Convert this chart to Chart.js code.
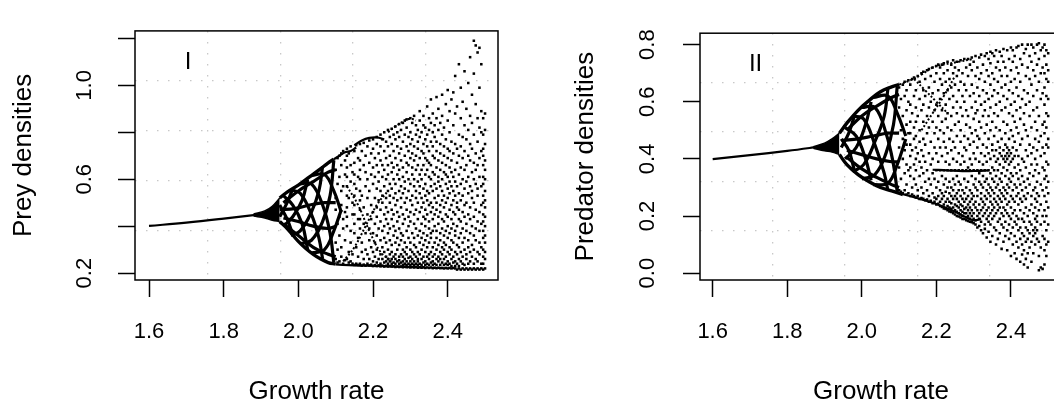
<!DOCTYPE html>
<html lang="en">
<head>
<meta charset="UTF-8">
<title>Prey and predator densities vs growth rate</title>
<style>
  html, body { margin: 0; padding: 0; background: #fff; overflow: hidden; }
  #wrap { position: relative; width: 1054px; height: 407px; overflow: hidden; }
  #preyChart { position: absolute; left: 0; top: 0; }
  #predChart { position: absolute; left: 540px; top: 0; }
</style>
<script src="https://cdn.jsdelivr.net/npm/chart.js"></script>
</head>
<body>
<div id="wrap">
  <canvas id="preyChart" width="540" height="407"></canvas>
  <canvas id="predChart" width="530" height="407"></canvas>
</div>
<script>
// axis ticks
const xTicks = [1.6, 1.8, 2.0, 2.2, 2.4];
const xTickLabels = ['1.6', '1.8', '2.0', '2.2', '2.4'];
const preyTicks = [0.2, 0.4, 0.6, 0.8, 1.0, 1.2];
const preyTickLabels = ['0.2', '', '0.6', '', '1.0', ''];
const predTicks = [0.0, 0.2, 0.4, 0.6, 0.8];
const predTickLabels = ['0.0', '0.2', '0.4', '0.6', '0.8'];

// ---------- panel I: prey ----------
const preyLine = [[1.60, 0.401], [1.70, 0.415], [1.80, 0.432], [1.88, 0.447], [1.90, 0.452]];
const preyWedgeTop = [[1.88, 0.452], [1.91, 0.465], [1.93, 0.485], [1.95, 0.52]];
const preyWedgeBottom = [[1.88, 0.443], [1.91, 0.435], [1.93, 0.425], [1.95, 0.42]];
const preyBulbTop = [[1.95, 0.52], [1.97, 0.545], [2.00, 0.575], [2.03, 0.61], [2.06, 0.645], [2.08, 0.67], [2.095, 0.685]];
const preyBulbBottom = [[1.95, 0.42], [1.97, 0.39], [2.00, 0.335], [2.02, 0.305], [2.04, 0.28], [2.06, 0.26], [2.08, 0.245], [2.10, 0.238]];
const preyTorus = [
  [[1.95, 0.44], [1.97, 0.50], [1.985, 0.56]],
  [[1.96, 0.40], [1.985, 0.44], [2.01, 0.51], [2.025, 0.60]],
  [[1.98, 0.36], [2.005, 0.38], [2.035, 0.46], [2.055, 0.55], [2.065, 0.655]],
  [[2.005, 0.325], [2.035, 0.34], [2.065, 0.42], [2.085, 0.53], [2.095, 0.68]],
  [[2.035, 0.285], [2.07, 0.30], [2.095, 0.38], [2.115, 0.47]],
  [[1.95, 0.49], [1.97, 0.43], [1.985, 0.365]],
  [[1.96, 0.53], [1.985, 0.49], [2.01, 0.41], [2.025, 0.30]],
  [[1.98, 0.555], [2.005, 0.54], [2.035, 0.45], [2.055, 0.35], [2.065, 0.26]],
  [[2.005, 0.58], [2.035, 0.58], [2.065, 0.49], [2.085, 0.37], [2.095, 0.245]],
  [[2.035, 0.615], [2.07, 0.62], [2.095, 0.55], [2.115, 0.46]],
  [[1.95, 0.47], [1.99, 0.475], [2.03, 0.49], [2.07, 0.50], [2.10, 0.50]],
  [[1.96, 0.435], [2.00, 0.42], [2.04, 0.40], [2.08, 0.39], [2.10, 0.40]],
  [[1.96, 0.50], [2.00, 0.55], [2.04, 0.59], [2.08, 0.63], [2.10, 0.64]],
  [[1.96, 0.41], [2.00, 0.36], [2.04, 0.31], [2.08, 0.28], [2.10, 0.27]]
];
const preyArcs = [
  [[2.10, 0.237], [2.15, 0.233], [2.20, 0.231], [2.25, 0.229], [2.30, 0.226], [2.34, 0.224]],
  [[2.15, 0.745], [2.17, 0.765], [2.19, 0.776], [2.21, 0.778], [2.23, 0.77]],
  [[2.095, 0.685], [2.11, 0.70], [2.125, 0.715], [2.14, 0.72], [2.155, 0.735]]
];
const preyDotted = [
  [[2.24, 0.80], [2.26, 0.825], [2.28, 0.845], [2.30, 0.858], [2.315, 0.85]],
  [[2.12, 0.25], [2.15, 0.31], [2.18, 0.40], [2.21, 0.49], [2.24, 0.55]],
  [[2.13, 0.57], [2.16, 0.49], [2.19, 0.38], [2.22, 0.29], [2.25, 0.25]]
];
const preyCloudX = [
  2.100, 2.105, 2.110, 2.115, 2.120, 2.125, 2.130, 2.135, 2.140, 2.145,
  2.150, 2.155, 2.160, 2.165, 2.170, 2.175, 2.180, 2.185, 2.190, 2.195,
  2.200, 2.205, 2.210, 2.215, 2.220, 2.225, 2.230, 2.235, 2.240, 2.245,
  2.250, 2.255, 2.260, 2.265, 2.270, 2.275, 2.280, 2.285, 2.290, 2.295,
  2.300, 2.305, 2.310, 2.315, 2.320, 2.325, 2.330, 2.335, 2.340, 2.345,
  2.350, 2.355, 2.360, 2.365, 2.370, 2.375, 2.380, 2.385, 2.390, 2.395,
  2.400, 2.405, 2.410, 2.415, 2.420, 2.425, 2.430, 2.435, 2.440, 2.445,
  2.450, 2.455, 2.460, 2.465, 2.470, 2.475, 2.480, 2.485, 2.490, 2.495, 2.500
];
const preyCloudY = [
  [0.26, 0.33, 0.47, 0.52, 0.64],
  [0.245, 0.30, 0.41, 0.58, 0.69],
  [0.25, 0.36, 0.44, 0.61, 0.70],
  [0.27, 0.31, 0.49, 0.55, 0.66, 0.71],
  [0.24, 0.39, 0.43, 0.57, 0.72],
  [0.255, 0.34, 0.46, 0.62, 0.68],
  [0.26, 0.40, 0.44, 0.48, 0.53, 0.57, 0.61, 0.65, 0.70, 0.73],
  [0.245, 0.29, 0.52, 0.71],
  [0.25, 0.33, 0.38, 0.59, 0.66, 0.74],
  [0.24, 0.28, 0.45, 0.50, 0.63],
  [0.235, 0.37, 0.41, 0.45, 0.49, 0.53, 0.58, 0.62, 0.67, 0.72],
  [0.24, 0.31, 0.56, 0.745],
  [0.235, 0.27, 0.35, 0.43, 0.61, 0.69],
  [0.24, 0.39, 0.43, 0.47, 0.51, 0.55, 0.60, 0.64, 0.68, 0.75],
  [0.232, 0.29, 0.33, 0.53, 0.72],
  [0.236, 0.26, 0.41, 0.48, 0.66, 0.755],
  [0.232, 0.30, 0.37, 0.57, 0.63, 0.70],
  [0.24, 0.28, 0.45, 0.52, 0.60, 0.74],
  [0.233, 0.26, 0.34, 0.39, 0.55, 0.67, 0.765],
  [0.236, 0.31, 0.43, 0.49, 0.62, 0.71],
  [0.23, 0.25, 0.29, 0.37, 0.46, 0.58, 0.65, 0.73, 0.77],
  [0.234, 0.27, 0.33, 0.41, 0.52, 0.61, 0.69],
  [0.23, 0.245, 0.30, 0.36, 0.44, 0.48, 0.56, 0.66, 0.75, 0.78],
  [0.233, 0.26, 0.39, 0.51, 0.59, 0.63, 0.71],
  [0.229, 0.24, 0.28, 0.34, 0.42, 0.47, 0.55, 0.68, 0.74, 0.79],
  [0.232, 0.26, 0.31, 0.38, 0.50, 0.53, 0.61, 0.66, 0.77],
  [0.228, 0.245, 0.29, 0.35, 0.40, 0.45, 0.57, 0.64, 0.72, 0.80],
  [0.231, 0.25, 0.27, 0.33, 0.43, 0.48, 0.52, 0.60, 0.69, 0.76],
  [0.228, 0.24, 0.26, 0.30, 0.37, 0.41, 0.46, 0.55, 0.62, 0.66, 0.74, 0.81],
  [0.23, 0.25, 0.28, 0.34, 0.39, 0.50, 0.53, 0.58, 0.70, 0.78],
  [0.228, 0.24, 0.26, 0.29, 0.32, 0.43, 0.47, 0.56, 0.63, 0.67, 0.75, 0.815],
  [0.229, 0.245, 0.27, 0.36, 0.40, 0.45, 0.52, 0.60, 0.65, 0.72, 0.79],
  [0.226, 0.24, 0.26, 0.28, 0.33, 0.38, 0.49, 0.54, 0.58, 0.69, 0.77, 0.825],
  [0.228, 0.25, 0.30, 0.35, 0.42, 0.46, 0.51, 0.62, 0.66, 0.74, 0.80],
  [0.226, 0.24, 0.255, 0.27, 0.32, 0.39, 0.44, 0.55, 0.60, 0.64, 0.71, 0.78, 0.835],
  [0.228, 0.245, 0.28, 0.34, 0.37, 0.48, 0.52, 0.57, 0.68, 0.73, 0.81],
  [0.225, 0.235, 0.25, 0.27, 0.30, 0.36, 0.41, 0.45, 0.54, 0.61, 0.65, 0.76, 0.84],
  [0.227, 0.24, 0.26, 0.29, 0.33, 0.43, 0.50, 0.56, 0.59, 0.70, 0.79, 0.85],
  [0.225, 0.235, 0.25, 0.28, 0.31, 0.38, 0.47, 0.52, 0.63, 0.67, 0.74, 0.82, 0.855],
  [0.226, 0.24, 0.265, 0.35, 0.40, 0.44, 0.55, 0.60, 0.66, 0.72, 0.78],
  [0.224, 0.235, 0.25, 0.27, 0.30, 0.33, 0.42, 0.46, 0.51, 0.58, 0.69, 0.75, 0.80, 0.86],
  [0.226, 0.24, 0.26, 0.29, 0.37, 0.49, 0.53, 0.62, 0.65, 0.71, 0.77, 0.84],
  [0.224, 0.235, 0.25, 0.28, 0.32, 0.35, 0.41, 0.45, 0.57, 0.60, 0.68, 0.74, 0.87],
  [0.226, 0.24, 0.27, 0.31, 0.39, 0.47, 0.52, 0.55, 0.64, 0.70, 0.79, 0.83],
  [0.223, 0.235, 0.25, 0.26, 0.29, 0.36, 0.43, 0.50, 0.59, 0.66, 0.73, 0.76, 0.81],
  [0.225, 0.24, 0.28, 0.33, 0.38, 0.46, 0.54, 0.57, 0.62, 0.69, 0.78, 0.85, 0.89],
  [0.223, 0.235, 0.26, 0.30, 0.35, 0.41, 0.48, 0.52, 0.60, 0.64, 0.72, 0.80],
  [0.225, 0.245, 0.27, 0.32, 0.37, 0.44, 0.50, 0.56, 0.66, 0.71, 0.75, 0.83, 0.87],
  [0.222, 0.235, 0.25, 0.29, 0.34, 0.40, 0.43, 0.47, 0.53, 0.58, 0.62, 0.69, 0.77, 0.82],
  [0.224, 0.24, 0.27, 0.31, 0.36, 0.45, 0.51, 0.55, 0.64, 0.68, 0.74, 0.79, 0.91],
  [0.222, 0.235, 0.26, 0.28, 0.33, 0.39, 0.42, 0.49, 0.54, 0.61, 0.67, 0.72, 0.81, 0.86],
  [0.224, 0.245, 0.29, 0.35, 0.37, 0.46, 0.50, 0.57, 0.60, 0.66, 0.76, 0.84, 0.94],
  [0.221, 0.235, 0.25, 0.27, 0.31, 0.38, 0.43, 0.48, 0.55, 0.63, 0.70, 0.74, 0.80, 0.88],
  [0.223, 0.24, 0.28, 0.33, 0.40, 0.45, 0.52, 0.58, 0.62, 0.69, 0.78, 0.83],
  [0.221, 0.235, 0.26, 0.30, 0.35, 0.38, 0.47, 0.50, 0.56, 0.65, 0.72, 0.76, 0.86, 0.95],
  [0.223, 0.25, 0.27, 0.32, 0.41, 0.44, 0.53, 0.59, 0.61, 0.68, 0.81, 0.90],
  [0.221, 0.235, 0.26, 0.29, 0.34, 0.37, 0.46, 0.49, 0.57, 0.64, 0.71, 0.75, 0.84],
  [0.222, 0.245, 0.28, 0.31, 0.39, 0.43, 0.51, 0.55, 0.60, 0.67, 0.79, 0.87, 0.96],
  [0.22, 0.235, 0.26, 0.30, 0.33, 0.36, 0.42, 0.48, 0.53, 0.63, 0.70, 0.74, 0.82],
  [0.222, 0.24, 0.27, 0.32, 0.38, 0.45, 0.50, 0.58, 0.62, 0.66, 0.77, 0.92],
  [0.22, 0.235, 0.25, 0.29, 0.35, 0.40, 0.44, 0.52, 0.56, 0.61, 0.69, 0.73, 0.85, 0.98],
  [0.222, 0.24, 0.28, 0.31, 0.37, 0.47, 0.54, 0.59, 0.65, 0.72, 0.80, 0.89],
  [0.22, 0.23, 0.26, 0.30, 0.34, 0.39, 0.43, 0.49, 0.57, 0.63, 0.68, 0.76, 0.94],
  [0.222, 0.245, 0.27, 0.33, 0.41, 0.46, 0.51, 0.55, 0.61, 0.71, 0.83, 0.97],
  [0.22, 0.23, 0.25, 0.29, 0.36, 0.38, 0.45, 0.53, 0.59, 0.64, 0.75, 0.88, 1.04],
  [0.215, 0.24, 0.28, 0.32, 0.40, 0.48, 0.50, 0.57, 0.67, 0.73, 0.91],
  [0.22, 0.23, 0.26, 0.31, 0.35, 0.43, 0.47, 0.54, 0.62, 0.70, 0.79, 1.09],
  [0.215, 0.25, 0.29, 0.37, 0.42, 0.51, 0.58, 0.65, 0.74, 0.86, 0.99],
  [0.22, 0.24, 0.27, 0.33, 0.39, 0.46, 0.53, 0.60, 0.69, 0.78, 0.93],
  [0.215, 0.235, 0.30, 0.35, 0.44, 0.49, 0.56, 0.64, 0.72, 0.83, 1.06],
  [0.22, 0.26, 0.28, 0.38, 0.41, 0.50, 0.59, 0.66, 0.77, 0.90],
  [0.215, 0.24, 0.31, 0.34, 0.45, 0.54, 0.61, 0.70, 0.81, 1.01],
  [0.22, 0.25, 0.29, 0.37, 0.43, 0.48, 0.57, 0.68, 0.75, 0.87, 1.12],
  [0.215, 0.27, 0.32, 0.40, 0.52, 0.55, 0.63, 0.73, 0.84, 0.96],
  [0.22, 0.24, 0.30, 0.36, 0.44, 0.50, 0.60, 0.67, 0.79, 1.05, 1.19],
  [0.215, 0.26, 0.34, 0.39, 0.47, 0.58, 0.64, 0.71, 0.92, 1.17],
  [0.22, 0.25, 0.29, 0.42, 0.53, 0.56, 0.66, 0.76, 0.86, 1.14],
  [0.215, 0.28, 0.33, 0.38, 0.46, 0.61, 0.69, 0.82, 0.99, 1.16],
  [0.22, 0.24, 0.31, 0.41, 0.49, 0.57, 0.72, 0.80, 0.89, 1.09],
  [0.215, 0.24, 0.27, 0.30, 0.35, 0.38, 0.42, 0.45, 0.50, 0.53, 0.58, 0.61, 0.66, 0.70, 0.73, 0.79, 0.86],
  [0.22, 0.26, 0.29, 0.33, 0.36, 0.40, 0.44, 0.48, 0.51, 0.55, 0.60, 0.64, 0.68, 0.75, 0.81, 0.88]
];

// ---------- panel II: predator ----------
const predLine = [[1.60, 0.399], [1.70, 0.413], [1.80, 0.428], [1.87, 0.44], [1.89, 0.444]];
const predWedgeTop = [[1.87, 0.443], [1.90, 0.455], [1.92, 0.47], [1.94, 0.49]];
const predWedgeBottom = [[1.87, 0.437], [1.90, 0.428], [1.92, 0.424], [1.94, 0.415]];
const predBulbTop = [[1.94, 0.49], [1.96, 0.525], [1.99, 0.57], [2.02, 0.605], [2.05, 0.635], [2.08, 0.652], [2.10, 0.66]];
const predBulbBottom = [[1.94, 0.415], [1.96, 0.38], [1.99, 0.345], [2.02, 0.32], [2.05, 0.30], [2.08, 0.288], [2.11, 0.275]];
const predTorus = [
  [[1.945, 0.44], [1.965, 0.49], [1.98, 0.55]],
  [[1.955, 0.40], [1.985, 0.44], [2.01, 0.52], [2.025, 0.60]],
  [[1.975, 0.355], [2.005, 0.38], [2.035, 0.46], [2.06, 0.55], [2.07, 0.645]],
  [[2.00, 0.33], [2.035, 0.345], [2.065, 0.42], [2.085, 0.52], [2.095, 0.655]],
  [[2.03, 0.31], [2.07, 0.315], [2.095, 0.38], [2.118, 0.47]],
  [[1.945, 0.47], [1.965, 0.43], [1.98, 0.36]],
  [[1.955, 0.51], [1.985, 0.48], [2.01, 0.40], [2.025, 0.325]],
  [[1.975, 0.55], [2.005, 0.54], [2.035, 0.45], [2.06, 0.35], [2.07, 0.29]],
  [[2.00, 0.58], [2.035, 0.58], [2.065, 0.49], [2.085, 0.38], [2.095, 0.285]],
  [[2.03, 0.615], [2.07, 0.62], [2.095, 0.56], [2.118, 0.48]],
  [[1.95, 0.465], [1.99, 0.47], [2.03, 0.48], [2.07, 0.49], [2.10, 0.49]],
  [[1.96, 0.43], [2.00, 0.415], [2.04, 0.40], [2.08, 0.39], [2.10, 0.39]],
  [[1.96, 0.50], [2.00, 0.55], [2.04, 0.585], [2.08, 0.615], [2.10, 0.625]],
  [[1.96, 0.405], [2.00, 0.365], [2.04, 0.335], [2.08, 0.31], [2.10, 0.30]]
];
const predArcs = [
  [[2.10, 0.28], [2.15, 0.262], [2.20, 0.242], [2.25, 0.215], [2.28, 0.196], [2.30, 0.185], [2.32, 0.19]],
  [[2.19, 0.362], [2.23, 0.36], [2.27, 0.357], [2.31, 0.358], [2.34, 0.36]]
];
const predDotted = [
  [[2.10, 0.66], [2.13, 0.675], [2.16, 0.695], [2.19, 0.72], [2.22, 0.73], [2.26, 0.74], [2.30, 0.75]],
  [[2.14, 0.68], [2.17, 0.64], [2.20, 0.60], [2.23, 0.56]],
  [[2.16, 0.50], [2.19, 0.56], [2.22, 0.62], [2.25, 0.69]]
];
const predCloudX = [
  2.100, 2.105, 2.110, 2.115, 2.120, 2.125, 2.130, 2.135, 2.140, 2.145,
  2.150, 2.155, 2.160, 2.165, 2.170, 2.175, 2.180, 2.185, 2.190, 2.195,
  2.200, 2.205, 2.210, 2.215, 2.220, 2.225, 2.230, 2.235, 2.240, 2.245,
  2.250, 2.255, 2.260, 2.265, 2.270, 2.275, 2.280, 2.285, 2.290, 2.295,
  2.300, 2.305, 2.310, 2.315, 2.320, 2.325, 2.330, 2.335, 2.340, 2.345,
  2.350, 2.355, 2.360, 2.365, 2.370, 2.375, 2.380, 2.385, 2.390, 2.395,
  2.400, 2.405, 2.410, 2.415, 2.420, 2.425, 2.430, 2.435, 2.440, 2.445,
  2.450, 2.455, 2.460, 2.465, 2.470, 2.475, 2.480, 2.485, 2.490, 2.495, 2.500
];
const predCloudY = [
  [0.29, 0.37, 0.44, 0.58, 0.65],
  [0.285, 0.33, 0.50, 0.61],
  [0.28, 0.40, 0.47, 0.55, 0.66],
  [0.29, 0.35, 0.43, 0.62, 0.67],
  [0.275, 0.31, 0.38, 0.45, 0.52, 0.57, 0.64],
  [0.28, 0.36, 0.49, 0.60, 0.675],
  [0.27, 0.34, 0.37, 0.41, 0.45, 0.49, 0.53, 0.59, 0.66],
  [0.275, 0.30, 0.43, 0.56, 0.68],
  [0.27, 0.33, 0.38, 0.47, 0.51, 0.62, 0.685],
  [0.265, 0.31, 0.36, 0.40, 0.44, 0.48, 0.53, 0.58, 0.64],
  [0.27, 0.29, 0.42, 0.55, 0.69],
  [0.26, 0.34, 0.39, 0.46, 0.50, 0.61, 0.67],
  [0.263, 0.30, 0.37, 0.43, 0.57, 0.70],
  [0.26, 0.28, 0.35, 0.41, 0.47, 0.53, 0.59, 0.64, 0.705],
  [0.255, 0.32, 0.39, 0.45, 0.62, 0.68],
  [0.258, 0.29, 0.36, 0.49, 0.55, 0.71],
  [0.25, 0.27, 0.33, 0.42, 0.51, 0.58, 0.65, 0.715],
  [0.253, 0.31, 0.38, 0.46, 0.60, 0.69],
  [0.245, 0.28, 0.35, 0.40, 0.53, 0.63, 0.72],
  [0.25, 0.265, 0.33, 0.44, 0.49, 0.57, 0.67],
  [0.24, 0.26, 0.30, 0.36, 0.42, 0.51, 0.59, 0.70, 0.725],
  [0.243, 0.27, 0.32, 0.39, 0.47, 0.55, 0.64, 0.73],
  [0.235, 0.25, 0.29, 0.36, 0.44, 0.50, 0.61, 0.68, 0.72],
  [0.232, 0.26, 0.28, 0.34, 0.41, 0.53, 0.57, 0.66, 0.73],
  [0.226, 0.24, 0.27, 0.31, 0.36, 0.46, 0.49, 0.63, 0.70, 0.735],
  [0.225, 0.25, 0.285, 0.33, 0.39, 0.44, 0.54, 0.59, 0.67],
  [0.22, 0.235, 0.26, 0.30, 0.36, 0.42, 0.51, 0.56, 0.64, 0.71, 0.74],
  [0.216, 0.23, 0.25, 0.28, 0.32, 0.38, 0.47, 0.61, 0.68],
  [0.214, 0.225, 0.245, 0.27, 0.30, 0.36, 0.43, 0.50, 0.55, 0.65, 0.73],
  [0.21, 0.23, 0.26, 0.29, 0.33, 0.40, 0.46, 0.58, 0.62, 0.70, 0.745],
  [0.205, 0.22, 0.24, 0.27, 0.31, 0.36, 0.44, 0.52, 0.66, 0.72],
  [0.20, 0.215, 0.235, 0.26, 0.28, 0.34, 0.39, 0.48, 0.56, 0.60, 0.69, 0.74],
  [0.198, 0.21, 0.23, 0.25, 0.29, 0.32, 0.36, 0.42, 0.53, 0.64, 0.71],
  [0.195, 0.205, 0.22, 0.24, 0.27, 0.31, 0.38, 0.46, 0.50, 0.58, 0.67, 0.745],
  [0.19, 0.20, 0.215, 0.235, 0.26, 0.29, 0.36, 0.41, 0.55, 0.62, 0.70],
  [0.19, 0.21, 0.225, 0.25, 0.28, 0.33, 0.39, 0.44, 0.48, 0.60, 0.66, 0.75],
  [0.185, 0.195, 0.21, 0.23, 0.26, 0.30, 0.36, 0.43, 0.52, 0.57, 0.64, 0.72],
  [0.183, 0.20, 0.22, 0.24, 0.27, 0.32, 0.37, 0.47, 0.55, 0.69, 0.75],
  [0.18, 0.19, 0.21, 0.23, 0.25, 0.29, 0.36, 0.40, 0.45, 0.51, 0.62, 0.73],
  [0.178, 0.20, 0.22, 0.26, 0.28, 0.34, 0.38, 0.49, 0.58, 0.66, 0.71, 0.755],
  [0.175, 0.19, 0.21, 0.24, 0.27, 0.31, 0.36, 0.42, 0.46, 0.54, 0.63, 0.74],
  [0.17, 0.185, 0.23, 0.25, 0.30, 0.33, 0.40, 0.50, 0.56, 0.60, 0.69, 0.76],
  [0.16, 0.20, 0.22, 0.27, 0.29, 0.36, 0.44, 0.48, 0.57, 0.65, 0.72],
  [0.165, 0.19, 0.21, 0.24, 0.32, 0.35, 0.39, 0.47, 0.53, 0.62, 0.68, 0.755],
  [0.15, 0.18, 0.22, 0.26, 0.28, 0.31, 0.36, 0.42, 0.51, 0.59, 0.70, 0.765],
  [0.14, 0.20, 0.23, 0.25, 0.30, 0.34, 0.38, 0.45, 0.55, 0.64, 0.73],
  [0.155, 0.17, 0.21, 0.24, 0.27, 0.32, 0.36, 0.41, 0.49, 0.57, 0.60, 0.67, 0.76],
  [0.125, 0.19, 0.22, 0.26, 0.29, 0.33, 0.39, 0.44, 0.52, 0.63, 0.71, 0.77],
  [0.145, 0.18, 0.20, 0.23, 0.28, 0.31, 0.36, 0.42, 0.47, 0.55, 0.61, 0.69, 0.75],
  [0.11, 0.17, 0.21, 0.25, 0.27, 0.30, 0.35, 0.40, 0.50, 0.58, 0.66, 0.735, 0.775],
  [0.13, 0.19, 0.22, 0.24, 0.29, 0.33, 0.37, 0.43, 0.45, 0.53, 0.62, 0.70, 0.77],
  [0.16, 0.20, 0.23, 0.26, 0.28, 0.32, 0.36, 0.41, 0.48, 0.56, 0.64, 0.68, 0.76],
  [0.10, 0.15, 0.21, 0.25, 0.30, 0.34, 0.39, 0.43, 0.51, 0.59, 0.72, 0.78],
  [0.12, 0.18, 0.22, 0.24, 0.27, 0.31, 0.36, 0.40, 0.46, 0.55, 0.63, 0.67, 0.74],
  [0.14, 0.19, 0.23, 0.26, 0.29, 0.33, 0.38, 0.42, 0.44, 0.50, 0.60, 0.71, 0.775],
  [0.085, 0.17, 0.21, 0.25, 0.28, 0.32, 0.35, 0.41, 0.47, 0.57, 0.65, 0.69, 0.76],
  [0.11, 0.16, 0.20, 0.23, 0.27, 0.30, 0.37, 0.40, 0.43, 0.53, 0.62, 0.74, 0.785],
  [0.13, 0.18, 0.22, 0.26, 0.29, 0.34, 0.39, 0.41, 0.45, 0.49, 0.58, 0.66, 0.72],
  [0.08, 0.15, 0.21, 0.24, 0.28, 0.31, 0.36, 0.40, 0.42, 0.44, 0.52, 0.61, 0.69, 0.78],
  [0.12, 0.17, 0.20, 0.25, 0.30, 0.33, 0.38, 0.41, 0.43, 0.47, 0.56, 0.64, 0.75],
  [0.06, 0.14, 0.19, 0.23, 0.27, 0.32, 0.35, 0.39, 0.42, 0.50, 0.59, 0.67, 0.71, 0.79],
  [0.10, 0.16, 0.21, 0.26, 0.29, 0.34, 0.40, 0.44, 0.48, 0.55, 0.63, 0.74, 0.78],
  [0.07, 0.13, 0.18, 0.22, 0.25, 0.31, 0.37, 0.41, 0.46, 0.53, 0.60, 0.68, 0.76],
  [0.05, 0.11, 0.17, 0.20, 0.27, 0.30, 0.35, 0.43, 0.51, 0.57, 0.65, 0.72, 0.79],
  [0.09, 0.15, 0.19, 0.24, 0.28, 0.33, 0.38, 0.41, 0.49, 0.62, 0.70, 0.795],
  [0.04, 0.12, 0.16, 0.22, 0.26, 0.31, 0.36, 0.45, 0.54, 0.58, 0.67, 0.75],
  [0.065, 0.10, 0.14, 0.19, 0.25, 0.29, 0.34, 0.40, 0.47, 0.61, 0.73, 0.80],
  [0.03, 0.08, 0.13, 0.18, 0.21, 0.27, 0.32, 0.39, 0.52, 0.56, 0.64, 0.77],
  [0.05, 0.11, 0.16, 0.23, 0.26, 0.30, 0.37, 0.43, 0.50, 0.59, 0.69, 0.785],
  [0.02, 0.07, 0.12, 0.15, 0.20, 0.28, 0.33, 0.41, 0.48, 0.63, 0.72, 0.80],
  [0.09, 0.14, 0.18, 0.22, 0.31, 0.35, 0.45, 0.55, 0.60, 0.68, 0.76],
  [0.04, 0.11, 0.17, 0.24, 0.27, 0.38, 0.42, 0.51, 0.66, 0.74, 0.80],
  [0.07, 0.13, 0.15, 0.21, 0.29, 0.34, 0.44, 0.57, 0.62, 0.71, 0.79],
  [0.10, 0.14, 0.16, 0.19, 0.23, 0.26, 0.30, 0.36, 0.40, 0.47, 0.53, 0.69, 0.77],
  [0.12, 0.15, 0.18, 0.20, 0.25, 0.28, 0.32, 0.38, 0.43, 0.50, 0.58, 0.64, 0.73, 0.80],
  [0.01, 0.06, 0.11, 0.22, 0.27, 0.35, 0.46, 0.55, 0.67, 0.75, 0.805],
  [0.02, 0.09, 0.17, 0.24, 0.31, 0.41, 0.48, 0.61, 0.70, 0.78],
  [0.015, 0.13, 0.20, 0.29, 0.37, 0.44, 0.52, 0.63, 0.72, 0.79],
  [0.03, 0.08, 0.12, 0.18, 0.22, 0.27, 0.33, 0.36, 0.42, 0.49, 0.53, 0.59, 0.65, 0.70, 0.76, 0.80],
  [0.06, 0.10, 0.15, 0.20, 0.25, 0.30, 0.34, 0.39, 0.45, 0.51, 0.56, 0.62, 0.68, 0.73, 0.78],
  [0.11, 0.17, 0.23, 0.28, 0.32, 0.38, 0.44, 0.47, 0.55, 0.61, 0.67, 0.71, 0.77]
];

const FONT = "'Liberation Sans', Arial, Helvetica, sans-serif";

function pts(arr) {
  return arr.map(([x, y]) => ({ x, y }));
}

function cloud(xs, cols) {
  const out = [];
  xs.forEach((x, i) => cols[i].forEach(y => out.push({ x, y })));
  return out;
}

// frame around the plot region plus the panel tag (I / II)
const boxPlugin = {
  id: 'box',
  afterDatasetsDraw(chart, args, opts) {
    const { ctx, chartArea: a } = chart;
    ctx.save();
    ctx.strokeStyle = '#000';
    ctx.lineWidth = 1.5;
    ctx.strokeRect(a.left, a.top, a.right - a.left, a.bottom - a.top);
    ctx.fillStyle = '#000';
    ctx.font = '24px ' + FONT;
    ctx.textAlign = 'center';
    ctx.textBaseline = 'middle';
    ctx.fillText(opts.text, chart.scales.x.getPixelForValue(opts.x), chart.scales.y.getPixelForValue(opts.y));
    ctx.restore();
  }
};

// grid divides the plot region into 5 x 5 like R's grid()
function fifths(s) {
  const step = (s.max - s.min) / 5;
  s.ticks = [1, 2, 3, 4].map(k => ({ value: s.min + k * step }));
}

function makeChart(id, p) {
  const line = (c, w, dash) => ({
    type: 'line', data: pts(c), borderColor: '#000', borderWidth: w,
    borderDash: dash || [], pointRadius: 0, tension: 0.4, fill: false
  });
  const datasets = [
    line(p.line, 2.2),
    { ...line(p.wedgeTop, 1.5), fill: '+1', backgroundColor: '#000' },
    line(p.wedgeBottom, 1.5),
    line(p.bulbTop, 3.4),
    line(p.bulbBottom, 3.4),
    ...p.torus.map(c => line(c, 3.2)),
    ...p.arcs.map(c => line(c, 2.2)),
    ...p.dotted.map(c => line(c, 2, [2, 2])),
    {
      type: 'scatter', data: cloud(p.cloudX, p.cloudY), pointStyle: 'rect',
      pointRadius: 1.8, pointBorderWidth: 0, backgroundColor: '#000', borderColor: '#000'
    }
  ];
  const tickFont = { family: FONT, size: 22 };
  const titleFont = { family: FONT, size: 26 };
  const axisGrid = { drawOnChartArea: false, drawTicks: true, tickLength: 17, tickWidth: 1.5, tickColor: '#000', color: '#000' };
  const dotGrid = { drawTicks: false, color: '#c8c8c8', lineWidth: 1.3 };

  new Chart(document.getElementById(id), {
    type: 'scatter',
    data: { datasets },
    options: {
      responsive: false,
      animation: false,
      events: [],
      layout: { padding: { top: 16, right: p.padRight, left: 0, bottom: 0 } },
      plugins: { legend: { display: false }, tooltip: { enabled: false }, box: p.tag },
      scales: {
        x: {
          type: 'linear', position: 'bottom', min: p.xMin, max: p.xMax,
          afterBuildTicks: s => { s.ticks = xTicks.map(v => ({ value: v })); },
          afterFit: s => { s.height = 127; },
          ticks: { autoSkip: false, minRotation: 0, maxRotation: 0, padding: 22, color: '#000', font: tickFont,
                   callback: (v, i) => xTickLabels[i] },
          grid: axisGrid,
          border: { display: false },
          title: { display: true, text: 'Growth rate', color: '#000', font: titleFont, padding: { top: 0, bottom: 0 } }
        },
        y: {
          type: 'linear', position: 'left', min: p.yMin, max: p.yMax,
          afterBuildTicks: s => { s.ticks = p.yTicks.map(v => ({ value: v })); },
          afterFit: s => { s.width = p.axisWidth; },
          ticks: { autoSkip: false, minRotation: 90, maxRotation: 90, crossAlign: 'center', padding: p.yPad,
                   color: '#000', font: tickFont, callback: (v, i) => p.yLabels[i] },
          grid: axisGrid,
          border: { display: false },
          title: { display: true, text: p.yTitle, color: '#000', font: titleFont, padding: { top: p.titlePad, bottom: 0 } }
        },
        gx: {
          type: 'linear', position: 'top', min: p.xMin, max: p.xMax,
          afterBuildTicks: fifths, afterFit: s => { s.height = 0; },
          ticks: { display: false }, grid: dotGrid, border: { display: false, dash: [1.5, 9.5] }
        },
        gy: {
          type: 'linear', position: 'right', min: p.yMin, max: p.yMax,
          afterBuildTicks: fifths, afterFit: s => { s.width = 0; },
          ticks: { display: false }, grid: dotGrid, border: { display: false, dash: [1.5, 9.5] }
        }
      }
    },
    plugins: [boxPlugin]
  });
}

makeChart('preyChart', {
  line: preyLine, wedgeTop: preyWedgeTop, wedgeBottom: preyWedgeBottom,
  bulbTop: preyBulbTop, bulbBottom: preyBulbBottom, torus: preyTorus,
  arcs: preyArcs, dotted: preyDotted, cloudX: preyCloudX, cloudY: preyCloudY,
  xMin: 1.5625, xMax: 2.5347, yMin: 0.1706, yMax: 1.232,
  yTicks: preyTicks, yLabels: preyTickLabels, yTitle: 'Prey densities',
  axisWidth: 135, padRight: 42, yPad: 17.7, titlePad: 8.4,
  tag: { text: 'I', x: 1.705, y: 1.10 }
});

makeChart('predChart', {
  line: predLine, wedgeTop: predWedgeTop, wedgeBottom: predWedgeBottom,
  bulbTop: predBulbTop, bulbBottom: predBulbBottom, torus: predTorus,
  arcs: predArcs, dotted: predDotted, cloudX: predCloudX, cloudY: predCloudY,
  xMin: 1.566, xMax: 2.537, yMin: -0.024, yMax: 0.84,
  yTicks: predTicks, yLabels: predTickLabels, yTitle: 'Predator densities',
  axisWidth: 160, padRight: 8, yPad: 20, titlePad: 30.4,
  tag: { text: 'II', x: 1.715, y: 0.73 }
});
</script>
</body>
</html>
